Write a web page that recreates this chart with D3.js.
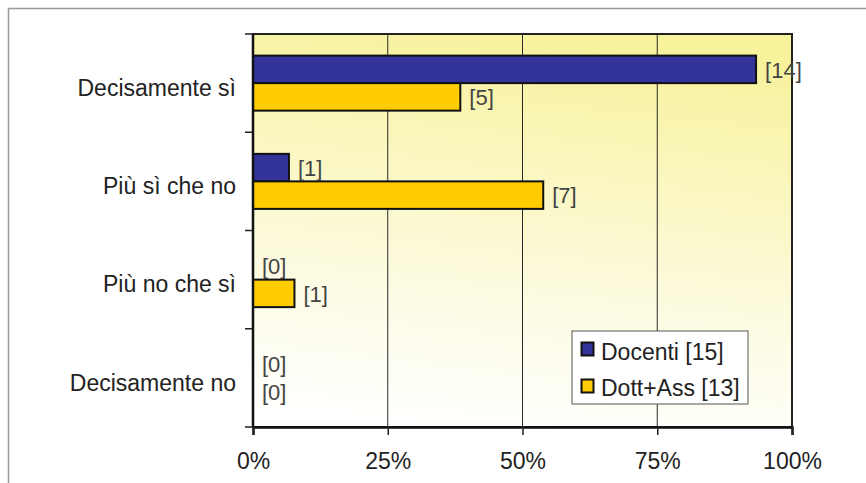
<!DOCTYPE html>
<html>
<head>
<meta charset="utf-8">
<script src="https://cdn.jsdelivr.net/npm/d3@7"></script>
<style>
  body { margin: 0; background: #fff; }
  svg { display: block; }
</style>
</head>
<body>
<svg width="866" height="483"></svg>
<script>
// risposte (conteggi) per categoria
var categories = ["Decisamente sì", "Più sì che no", "Più no che sì", "Decisamente no"];
var seriesNames = ["Docenti [15]", "Dott+Ass [13]"];
var seriesTotals = [15, 13];
var docenti = [14, 1, 0, 0];
var dottAss = [5, 7, 1, 0];
var seriesColors = ["#333399", "#ffcc00"];
var tickValues = [0, 0.25, 0.5, 0.75, 1];

var svg = d3.select("svg");
// attenzione: "top" e' riservato da window, uso nomi diversi
var pL = 253, pR = 792, pT = 34, pB = 427;

// cornice esterna
svg.append("path")
  .attr("d", "M8.5,483 V8.5 H866")
  .attr("fill", "none")
  .attr("stroke", "#999")
  .attr("stroke-width", 1.5);

var defs = svg.append("defs");
var grad = defs.append("linearGradient")
  .attr("id", "bg")
  .attr("x1", 0.42).attr("y1", 1)
  .attr("x2", 0.58).attr("y2", 0);
grad.append("stop").attr("offset", "0%").attr("stop-color", "#fffffd");
grad.append("stop").attr("offset", "25%").attr("stop-color", "#fdfcea");
grad.append("stop").attr("offset", "100%").attr("stop-color", "#f7f29c");

var x = d3.scaleLinear().domain([0, 1]).range([pL, pR]);
var y = d3.scaleBand().domain(categories).range([pT, pB])
  .paddingInner(0.44).paddingOuter(0.22);
var ySub = d3.scaleBand().domain(seriesNames).range([0, y.bandwidth()]);

svg.append("rect")
  .attr("x", pL).attr("y", pT)
  .attr("width", pR - pL).attr("height", pB - pT)
  .attr("fill", "url(#bg)");

// griglia verticale
svg.selectAll("line.grid")
  .data(tickValues.slice(1, 4))
  .enter().append("line")
  .attr("class", "grid")
  .attr("x1", function(d) { return x(d); })
  .attr("x2", function(d) { return x(d); })
  .attr("y1", pT).attr("y2", pB)
  .attr("stroke", "#2a2a2a")
  .attr("stroke-width", 1);

svg.append("rect")
  .attr("x", pL).attr("y", pT)
  .attr("width", pR - pL).attr("height", pB - pT)
  .attr("fill", "none")
  .attr("stroke", "#222")
  .attr("stroke-width", 2);

var data = [];
categories.forEach(function(c, i) {
  data.push({ cat: c, s: seriesNames[0], n: docenti[i], v: docenti[i] / seriesTotals[0], col: seriesColors[0] });
  data.push({ cat: c, s: seriesNames[1], n: dottAss[i], v: dottAss[i] / seriesTotals[1], col: seriesColors[1] });
});

svg.selectAll("rect.bar")
  .data(data.filter(function(d) { return d.v > 0; }))
  .enter().append("rect")
  .attr("class", "bar")
  .attr("x", x(0))
  .attr("y", function(d) { return y(d.cat) + ySub(d.s); })
  .attr("width", function(d) { return x(d.v) - x(0); })
  .attr("height", ySub.bandwidth())
  .attr("fill", function(d) { return d.col; })
  .attr("stroke", "#111")
  .attr("stroke-width", 2);

svg.selectAll("text.val")
  .data(data)
  .enter().append("text")
  .attr("class", "val")
  .attr("x", function(d) { return x(d.v) + 9; })
  .attr("y", function(d) { return y(d.cat) + ySub(d.s) + ySub.bandwidth() / 2; })
  .attr("dy", "0.38em")
  .attr("font-family", "'Liberation Sans Narrow', 'Liberation Sans', Arial, sans-serif")
  .attr("font-size", 22)
  .attr("fill", "#444")
  .text(function(d) { return "[" + d.n + "]"; });

// asse y
var yAxis = d3.axisLeft(y).tickSize(0).tickPadding(17);
var gy = svg.append("g").attr("transform", "translate(" + pL + ",0)").call(yAxis);
gy.select(".domain").remove();
gy.selectAll("text")
  .attr("dy", "0.55em")
  .attr("font-family", "'Liberation Sans', Arial, sans-serif")
  .attr("font-size", 23)
  .attr("fill", "#222");

var bounds = categories.map(function(c) { return y(c) - y.step() * y.paddingInner() / 2; });
bounds.push(pB);
svg.selectAll("line.ytick")
  .data(bounds)
  .enter().append("line")
  .attr("x1", pL - 8).attr("x2", pL)
  .attr("y1", function(d) { return d; })
  .attr("y2", function(d) { return d; })
  .attr("stroke", "#222")
  .attr("stroke-width", 1.5);

svg.append("line")
  .attr("x1", pL).attr("x2", pL)
  .attr("y1", pT).attr("y2", pB)
  .attr("stroke", "#111").attr("stroke-width", 2.5);

// asse x
var xAxis = d3.axisBottom(x).tickValues(tickValues)
  .tickFormat(d3.format(".0%")).tickSize(8).tickPadding(18);
var gx = svg.append("g").attr("transform", "translate(0," + pB + ")").call(xAxis);
gx.select(".domain").attr("stroke", "#111").attr("stroke-width", 2.5);
gx.selectAll(".tick line").attr("stroke", "#222").attr("stroke-width", 1.5);
gx.selectAll("text")
  .attr("font-family", "'Liberation Sans', Arial, sans-serif")
  .attr("font-size", 23)
  .attr("fill", "#222");

// legenda
var legend = svg.append("g").attr("transform", "translate(572,331)");
legend.append("rect")
  .attr("width", 176).attr("height", 73)
  .attr("fill", "#fff")
  .attr("stroke", "#555")
  .attr("stroke-width", 1);
seriesNames.forEach(function(s, i) {
  legend.append("rect")
    .attr("x", 9.5).attr("y", 11.5 + i * 37)
    .attr("width", 12).attr("height", 13)
    .attr("fill", seriesColors[i])
    .attr("stroke", "#111")
    .attr("stroke-width", 2);
  legend.append("text")
    .attr("x", 29).attr("y", 29 + i * 36)
    .attr("font-family", "'Liberation Sans', Arial, sans-serif")
    .attr("font-size", 23)
    .attr("fill", "#222")
    .text(s);
});
</script>
</body>
</html>
